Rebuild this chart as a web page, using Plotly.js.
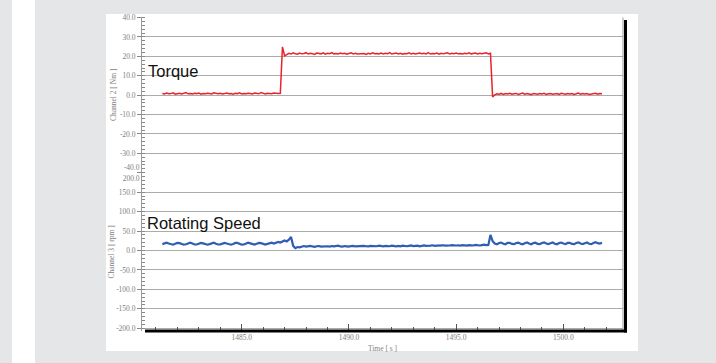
<!DOCTYPE html>
<html>
<head>
<meta charset="utf-8">
<script src="https://cdn.plot.ly/plotly-3.0.1.min.js"></script>
<style>
  html, body { margin: 0; padding: 0; background: #e5e6e8; }
  #strip { position: absolute; left: 12px; top: 0; width: 23px; height: 363px; background: #ffffff; }
  #panel { position: absolute; left: 106px; top: 14px; width: 532px; height: 337px; background: #ffffff; }
  #chart { position: absolute; left: 0; top: 0; width: 716px; height: 363px; }
</style>
</head>
<body>
<div id="strip"></div>
<div id="panel"></div>
<div id="chart"></div>
<script>
// Logger sampling: first sample time and interval, seconds
const T0 = 1481.3;
const DT = 0.1;

// Channel 2: torque [Nm], one value per sample
const torque = [
  0.9,0.6,1.1,0.7,0.8,1.2,0.5,0.9,1.0,0.6, 0.8,1.3,0.7,0.9,0.6,1.0,0.8,1.1,0.5,0.9,
  0.7,1.0,0.8,0.6,1.2,0.9,0.7,1.0,0.6,0.8, 1.1,0.7,0.9,0.5,1.0,0.8,1.2,0.6,0.9,0.7,
  1.0,0.8,0.6,1.1,0.9,0.7,1.3,0.8,0.6,1.0, 0.9,0.7,1.1,0.8,0.9,1.0,
  24.9,
  20.3,21.0,21.6,21.2,21.8,21.4,21.1,21.7,21.3,21.5, 21.9,21.2,21.6,21.4,21.0,21.7,21.5,21.3,21.8,21.1,
  21.6,21.4,21.9,21.3,21.5,21.2,21.7,21.4,21.6,21.1, 21.5,21.8,21.3,21.6,21.2,21.4,21.7,21.5,21.0,21.6,
  21.3,21.8,21.4,21.5,21.2,21.7,21.3,21.6,21.4,21.9, 21.2,21.5,21.7,21.3,21.6,21.1,21.5,21.4,21.8,21.3,
  21.6,21.2,21.5,21.7,21.4,21.6,21.3,21.9,21.2,21.5, 21.4,21.7,21.1,21.6,21.3,21.5,21.8,21.2,21.6,21.4,
  21.7,21.3,21.5,21.2,21.6,21.4,21.8,21.3,21.5,21.7, 21.2,21.6,21.4,21.5,21.9,21.3,21.6,
  -0.9,
  0.2,0.7,0.5,0.9,0.4,0.8,0.6,1.0,0.5,0.7, 0.9,0.4,0.6,1.1,0.5,0.8,0.6,0.3,0.9,0.7,
  0.5,0.8,0.6,1.0,0.4,0.7,0.9,0.5,0.6,0.8, 0.4,1.0,0.7,0.5,0.9,0.6,0.8,0.4,0.7,1.1,
  0.5,0.8,0.6,0.9,0.4,0.7,0.6,1.0,0.5,0.8, 0.7
];

// Channel 3: rotating speed [rpm], one value per sample
const speed = [
  16.5,18.5,20.0,18.0,15.5,15.0,17.5,19.5,19.0,16.5, 15.0,16.0,18.5,20.0,18.0,15.5,15.5,17.5,19.5,18.5,
  16.0,15.0,16.5,19.0,20.0,17.5,15.5,16.0,18.0,19.5, 18.0,15.5,15.0,17.0,19.5,19.5,17.0,15.0,15.5,18.0,
  20.0,18.5,16.0,15.5,17.5,19.5,19.0,16.5,15.5,17.0, 19.5,20.0,18.0,
  19.5,22.0,20.5,24.0,26.0,23.5,28.0,35.0,12.0,6.0,9.0,8.0,
  10.5,11.5,10.0,11.0,12.0,10.5,9.5,11.0,11.5,10.0, 10.5,12.0,11.0,10.0,11.5,10.5,11.0,12.5,10.5,10.0,
  11.5,11.0,10.0,11.5,12.0,10.5,11.0,10.0,11.5,12.0, 11.0,10.5,12.0,11.5,10.5,11.0,12.5,11.0,10.5,12.0,
  11.5,11.0,12.5,11.5,10.5,12.0,11.0,12.5,11.5,11.0, 12.0,13.0,11.5,12.0,12.5,11.0,12.5,13.0,12.0,11.5,
  12.5,13.5,12.0,12.5,13.0,12.0,13.5,12.5,12.0,13.0, 14.0,12.5,13.0,13.5,12.5,14.0,13.0,12.5,14.0,13.5,
  13.0,14.5,13.5,13.0,14.0,15.0,14.0,14.5,
  40.0,24.0,
  18.0,16.0,19.0,20.5,17.5,16.0,19.5,20.0,17.0,16.5, 19.5,20.5,17.5,16.0,18.5,20.5,18.0,16.0,19.0,20.0,
  17.0,16.5,19.5,21.0,18.0,16.5,18.5,20.5,17.5,16.0, 19.0,20.5,18.0,16.5,19.5,20.0,17.0,16.5,19.5,21.0,
  18.0,16.5,18.5,20.5,17.5,16.5,19.5,21.5,19.0,18.0, 20.0
];

// Tick positions and labels
const timeTicks = [1485, 1490, 1495, 1500];
const timeLabels = ['1485.0', '1490.0', '1495.0', '1500.0'];
const torqueTicks = [-30, -20, -10, 0, 10, 20, 30, 40];
const torqueLabels = ['-30.0', '-20.0', '-10.0', '0.0', '10.0', '20.0', '30.0', '40.0'];
const torqueEdgeTick = [-40];
const torqueEdgeLabel = ['-40.0'];
const speedTicks = [-200, -150, -100, -50, 0, 50, 100, 150];
const speedLabels = ['-200.0', '-150.0', '-100.0', '-50.0', '0.0', '50.0', '100.0', '150.0'];
const speedEdgeTick = [200];
const speedEdgeLabel = ['200.0'];

const time = torque.map((_, i) => +(T0 + i * DT).toFixed(2));

// plot-area pixel helpers for the frame decoration
const L = 142, R = 623, TOP = 17, BOT = 331;
const px = p => (p - L) / (R - L);
const py = p => (BOT - p) / (BOT - TOP);

const serif = { family: 'Liberation Serif, Times New Roman, serif', size: 7.5, color: '#808080' };
const TORQUE_RANGE = [-40, 40.3];
const SPEED_RANGE = [-206.9, 200];

const traces = [
  { x: time, y: torque, xaxis: 'x', yaxis: 'y', type: 'scatter', mode: 'lines',
    line: { color: '#e8232a', width: 1.5 }, name: 'Torque' },
  { x: time, y: speed, xaxis: 'x', yaxis: 'y2', type: 'scatter', mode: 'lines',
    line: { color: '#2f5db3', width: 2.2 }, name: 'Rotating Speed' },
  // carriers for the boundary tick axes (the shared -40 / 200 edge)
  { x: [null], y: [null], xaxis: 'x', yaxis: 'y3', type: 'scatter', mode: 'lines', hoverinfo: 'skip' },
  { x: [null], y: [null], xaxis: 'x', yaxis: 'y4', type: 'scatter', mode: 'lines', hoverinfo: 'skip' }
];

const yCommon = {
  ticks: 'outside', ticklen: 4, tickcolor: '#888', tickwidth: 1,
  tickfont: serif, showline: true, linecolor: '#999', linewidth: 1,
  showgrid: true, gridcolor: '#ababab', gridwidth: 1, zeroline: false,
  tickmode: 'array', automargin: false, fixedrange: true
};

const layout = {
  width: 716, height: 363,
  margin: { l: L, r: 716 - R, t: TOP, b: 363 - BOT },
  paper_bgcolor: 'rgba(0,0,0,0)',
  plot_bgcolor: 'rgba(0,0,0,0)',
  showlegend: false,
  xaxis: {
    anchor: 'y2', range: [1480.35, 1502.78],
    tickmode: 'array', tickvals: timeTicks, ticktext: timeLabels,
    ticks: 'inside', ticklen: 7, tickcolor: '#555', tickwidth: 1,
    minor: { tickmode: 'linear', tick0: 1480, dtick: 1, ticks: 'inside', ticklen: 4, tickcolor: '#555', showgrid: false },
    showgrid: false, zeroline: false, showline: false,
    tickfont: serif, automargin: false,
    title: { text: 'Time [ s ]', font: serif, standoff: 5 }
  },
  yaxis: Object.assign({}, yCommon, {
    domain: [0.504, 1], range: TORQUE_RANGE, anchor: 'x',
    tickvals: torqueTicks, ticktext: torqueLabels,
    minor: { tickmode: 'linear', tick0: 0, dtick: 2, ticks: 'inside', ticklen: 3, tickcolor: '#888', showgrid: false },
    title: { text: 'Channel 2 [ Nm ]', font: serif, standoff: 2 }
  }),
  yaxis3: Object.assign({}, yCommon, {
    overlaying: 'y', range: TORQUE_RANGE, anchor: 'x', side: 'left',
    showline: false, tickvals: torqueEdgeTick, ticktext: torqueEdgeLabel,
    ticklabelposition: 'outside top'
  }),
  yaxis2: Object.assign({}, yCommon, {
    domain: [0, 0.504], range: SPEED_RANGE, anchor: 'x',
    tickvals: speedTicks, ticktext: speedLabels,
    minor: { tickmode: 'linear', tick0: 0, dtick: 10, ticks: 'inside', ticklen: 3, tickcolor: '#888', showgrid: false },
    title: { text: 'Channel 3 [ rpm ]', font: serif, standoff: 0 }
  }),
  yaxis4: Object.assign({}, yCommon, {
    overlaying: 'y2', range: SPEED_RANGE, anchor: 'x', side: 'left',
    showline: false, showgrid: false, tickvals: speedEdgeTick, ticktext: speedEdgeLabel,
    ticklabelposition: 'outside bottom'
  }),
  annotations: [
    { xref: 'x', yref: 'y', x: 1480.55, y: 12.3, xanchor: 'left', yanchor: 'middle',
      text: 'Torque', showarrow: false,
      font: { family: 'Liberation Sans, Arial, sans-serif', size: 16.5, color: '#111' } },
    { xref: 'x', yref: 'y2', x: 1480.5, y: 72, xanchor: 'left', yanchor: 'middle',
      text: 'Rotating Speed', showarrow: false,
      font: { family: 'Liberation Sans, Arial, sans-serif', size: 16.5, color: '#111' } }
  ],
  shapes: [
    // thin right border
    { type: 'line', xref: 'paper', yref: 'paper', x0: px(623), x1: px(623), y0: py(331), y1: py(17.6),
      line: { color: '#999', width: 1 } },
    // heavy shadow on the right and bottom edges
    { type: 'rect', xref: 'paper', yref: 'paper', x0: px(624), x1: px(627), y0: py(332.5), y1: py(20),
      fillcolor: '#000', line: { width: 0 } },
    { type: 'rect', xref: 'paper', yref: 'paper', x0: px(145), x1: px(627), y0: py(332.5), y1: py(329.5),
      fillcolor: '#000', line: { width: 0 } }
  ]
};

Plotly.newPlot('chart', traces, layout, { staticPlot: true, displayModeBar: false });
</script>
</body>
</html>
